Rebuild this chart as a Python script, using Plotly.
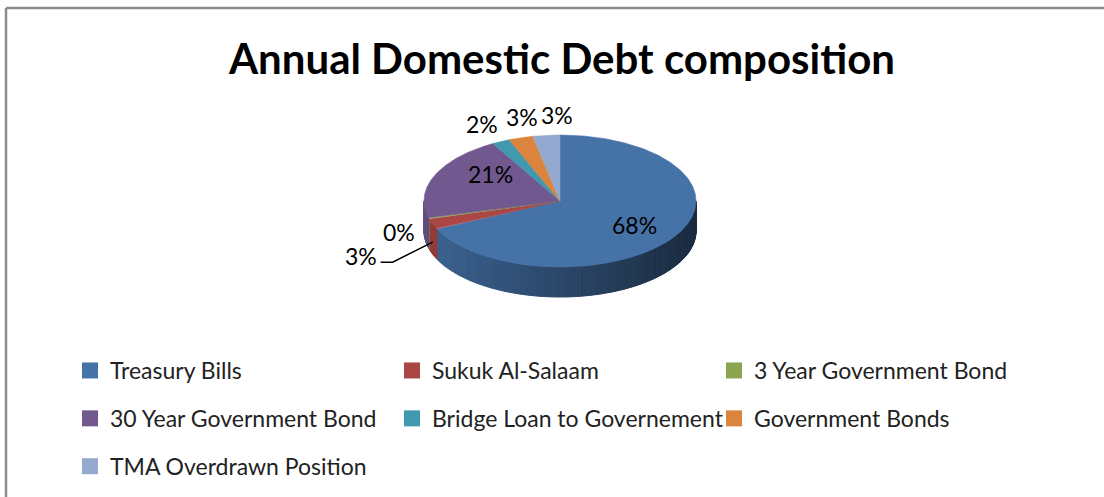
import math
import plotly.graph_objects as go

# ---- data -------------------------------------------------------------
categories = [
    "Treasury Bills",
    "Sukuk Al-Salaam",
    "3 Year Government Bond",
    "30 Year Government Bond",
    "Bridge Loan to Governement",
    "Government Bonds",
    "TMA Overdrawn Position",
]
shares = [68.0, 2.6, 0.2, 21.0, 2.1, 2.9, 3.2]
colors = ["#4572A7", "#AA4643", "#89A54E", "#71588F", "#4198AF", "#DB843D", "#93A9CF"]
chart_title = "Annual Domestic Debt composition"

# ---- geometry of the tilted pie (pixel units) --------------------------
W, H = 1104, 497
CX, CY = 560, 201
RX, RY = 136, 66
DEPTH = 30
FONT = "Lato"

# label placement: (kind, radial factor, pixel offsets)
label_style = {
    "Treasury Bills": ("in", 0.65, 0, 1),
    "Sukuk Al-Salaam": ("leader", 0, 0, 0),
    "3 Year Government Bond": ("out", 0, -30, 13),
    "30 Year Government Bond": ("in", 0.6, 6, -12),
    "Bridge Loan to Governement": ("out", 0, -19, -18),
    "Government Bonds": ("out", 0, 1, -21),
    "TMA Overdrawn Position": ("out", 0, 11, -20),
}


def rim(theta, r=1.0, dy=0.0):
    t = math.radians(theta)
    return CX + RX * r * math.sin(t), CY - RY * r * math.cos(t) + dy


def shade(hex_color, f):
    h = hex_color.lstrip("#")
    r, g, b = (int(h[i:i + 2], 16) for i in (0, 2, 4))
    return "rgb(%d,%d,%d)" % (r * f, g * f, b * f)


total = sum(shares)
bounds = []
acc = 0.0
for v in shares:
    a0 = acc / total * 360.0
    acc += v
    a1 = acc / total * 360.0
    bounds.append((a0, a1))

fig = go.Figure()

# front wall of the pie (visible between 3 o'clock and 9 o'clock)
for (a0, a1), col in zip(bounds, colors):
    lo, hi = max(a0, 90.0), min(a1, 270.0)
    if hi <= lo:
        continue
    n = max(1, math.ceil((hi - lo) / 1.0))
    for k in range(n):
        s0 = lo + (hi - lo) * k / n
        s1 = lo + (hi - lo) * (k + 1) / n
        p0, p1 = rim(s0), rim(s1)
        q1, q0 = rim(s1, dy=DEPTH), rim(s0, dy=DEPTH)
        xm = (p0[0] + p1[0]) / 2
        u = (xm - (CX - RX)) / (2 * RX)
        f = 0.88 - 0.50 * u
        c = shade(col, f)
        fig.add_trace(go.Scatter(
            x=[p0[0], p1[0], q1[0], q0[0], p0[0]],
            y=[p0[1], p1[1], q1[1], q0[1], p0[1]],
            mode="lines", fill="toself", fillcolor=c,
            line=dict(color=c, width=1.0),
            hoverinfo="skip", showlegend=False,
        ))

# top face slices
for (a0, a1), col, name, v in zip(bounds, colors, categories, shares):
    n = max(2, math.ceil((a1 - a0) / 0.5))
    xs, ys = [CX], [CY]
    for k in range(n + 1):
        px, py = rim(a0 + (a1 - a0) * k / n)
        xs.append(px)
        ys.append(py)
    xs.append(CX)
    ys.append(CY)
    fig.add_trace(go.Scatter(
        x=xs, y=ys, mode="lines", fill="toself", fillcolor=col,
        line=dict(color=col, width=0.6),
        name=name, hovertemplate="%s: %.1f%%<extra></extra>" % (name, v / total * 100),
        showlegend=False,
    ))

# percentage labels
for (a0, a1), name, v in zip(bounds, categories, shares):
    kind, r, dx, dy = label_style[name]
    mid = (a0 + a1) / 2
    txt = "%d%%" % round(v / total * 100)
    font = dict(family=FONT, size=23, color="#000000")
    if kind == "in":
        x, y = rim(mid, r)
        fig.add_annotation(x=x + dx, y=y + dy, text=txt, showarrow=False,
                           font=font, xanchor="center", yanchor="middle")
    elif kind == "out":
        x, y = rim(mid)
        fig.add_annotation(x=x + dx, y=y + dy, text=txt, showarrow=False,
                           font=font, xanchor="center", yanchor="middle")
    else:
        # leader line from the wall of the slice out to the left
        x0, y0 = rim(mid, dy=DEPTH * 0.6)
        lx = [x0, x0 - 40, x0 - 52]
        ly = [y0, y0 + 20, y0 + 20]
        fig.add_trace(go.Scatter(x=lx, y=ly, mode="lines",
                                 line=dict(color="#000000", width=1.5),
                                 hoverinfo="skip", showlegend=False))
        fig.add_annotation(x=lx[-1] - 2, y=ly[-1] - 6, text=txt, showarrow=False,
                           font=font, xanchor="right", yanchor="middle")

# legend entries: three columns
legend_keys = ["legend", "legend2", "legend3"]
for i, (name, col) in enumerate(zip(categories, colors)):
    fig.add_trace(go.Scatter(
        x=[None], y=[None], mode="markers",
        marker=dict(symbol="square", size=16, color=col),
        name=name, legend=legend_keys[i % 3], legendgroup=name,
    ))

legend_common = dict(
    orientation="v", yanchor="top", xanchor="left",
    font=dict(family=FONT, size=23, color="#222222"),
    bgcolor="rgba(0,0,0,0)", tracegroupgap=15, itemsizing="trace",
    y=1 - 349 / H,
)
fig.update_layout(
    legend=dict(x=70 / W, **legend_common),
    legend2=dict(x=392 / W, **legend_common),
    legend3=dict(x=714 / W, **legend_common),
)

# chart frame
frame = dict(type="line", xref="x", yref="y", line=dict(color="#8c8c8c", width=2.5))
fig.add_shape(x0=6, y0=8, x1=W, y1=8, **frame)
fig.add_shape(x0=6, y0=8, x1=6, y1=H, **frame)

fig.update_layout(
    width=W, height=H,
    margin=dict(l=0, r=0, t=0, b=0),
    paper_bgcolor="white", plot_bgcolor="white",
    title=dict(text="<b>%s</b>" % chart_title, x=562 / W, xanchor="center",
               y=1 - 59 / H, yanchor="middle",
               font=dict(family=FONT, size=42, color="#000000")),
    xaxis=dict(range=[0, W], visible=False, fixedrange=True),
    yaxis=dict(range=[H, 0], visible=False, fixedrange=True),
    showlegend=True,
)

fig.write_html("out.html")
